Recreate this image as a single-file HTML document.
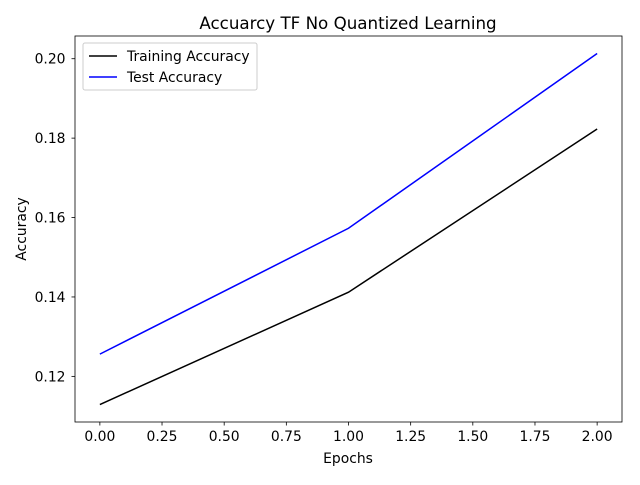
<!DOCTYPE html>
<html><head><meta charset="utf-8"><style>
body{margin:0;background:#fff;}
text{font-family:"DejaVu Sans","Liberation Sans",sans-serif;}
</style></head><body>
<svg id="chart" width="640" height="480" xmlns="http://www.w3.org/2000/svg">
<text x="348" y="29" font-size="16.7" text-anchor="middle">Accuarcy TF No Quantized Learning</text>
<g id="axes"></g>
<text x="348" y="463" font-size="13.9" text-anchor="middle">Epochs</text>
<text x="0" y="0" font-size="13.9" text-anchor="middle" transform="translate(26,229) rotate(-90)">Accuracy</text>
<g>
<rect x="83" y="43" width="174" height="47" fill="#fff" stroke="#ccc" rx="2"/>
<line x1="89" y1="56" x2="117" y2="56" stroke="#000" stroke-width="1.5"/>
<text x="127" y="61" font-size="13.9">Training Accuracy</text>
<line x1="89" y1="77" x2="117" y2="77" stroke="#00f" stroke-width="1.5"/>
<text x="127" y="82" font-size="13.9">Test Accuracy</text>
</g>
</svg>
<script>
const epochs=[0,1,2];
const trainAcc=[0.1129,0.1412,0.1823];
const testAcc=[0.1256,0.1573,0.2013];
const xTicks=[0,0.25,0.5,0.75,1,1.25,1.5,1.75,2];
const xTickLabels=["0.00","0.25","0.50","0.75","1.00","1.25","1.50","1.75","2.00"];
const yTicks=[0.12,0.14,0.16,0.18,0.20];
const yTickLabels=["0.12","0.14","0.16","0.18","0.20"];
const L=75,R=622,T=36,B=422;
const xmin=-0.1,xmax=2.1,ymin=0.10851,ymax=0.20572;
const X=v=>L+(v-xmin)/(xmax-xmin)*(R-L);
const Y=v=>B-(v-ymin)/(ymax-ymin)*(B-T);
const NS="http://www.w3.org/2000/svg";
const g=document.getElementById('axes');
function mk(t,a){const e=document.createElementNS(NS,t);for(const k in a)e.setAttribute(k,a[k]);g.appendChild(e);return e;}
xTicks.forEach((v,i)=>{
 const l=mk('line',{x1:X(v),x2:X(v),y1:B,y2:B+3.5,stroke:'#000','stroke-width':0.8});
 
 
 const t=mk('text',{x:X(v),y:B+19,'font-size':13.9,'text-anchor':'middle'});t.textContent=xTickLabels[i];
 
 
});
yTicks.forEach((v,i)=>{
 const l=mk('line',{x1:L-3.5,x2:L,y1:Y(v),y2:Y(v),stroke:'#000','stroke-width':0.8});
 
 
 const t=mk('text',{x:L-9.5,y:Y(v)+5,'font-size':13.9,'text-anchor':'end'});t.textContent=yTickLabels[i];
 
 
});
function line(vals,col,name){
 const p=mk('polyline',{points:epochs.map((e,i)=>X(e)+','+Y(vals[i])).join(' '),fill:'none',stroke:col,'stroke-width':1.5});
 
 
}
line(trainAcc,'#000','training-accuracy-line');
line(testAcc,'#00f','test-accuracy-line');
const f=mk('rect',{x:L,y:T,width:R-L,height:B-T,fill:'none',stroke:'#000','stroke-width':0.8});


</script>
</body></html>
